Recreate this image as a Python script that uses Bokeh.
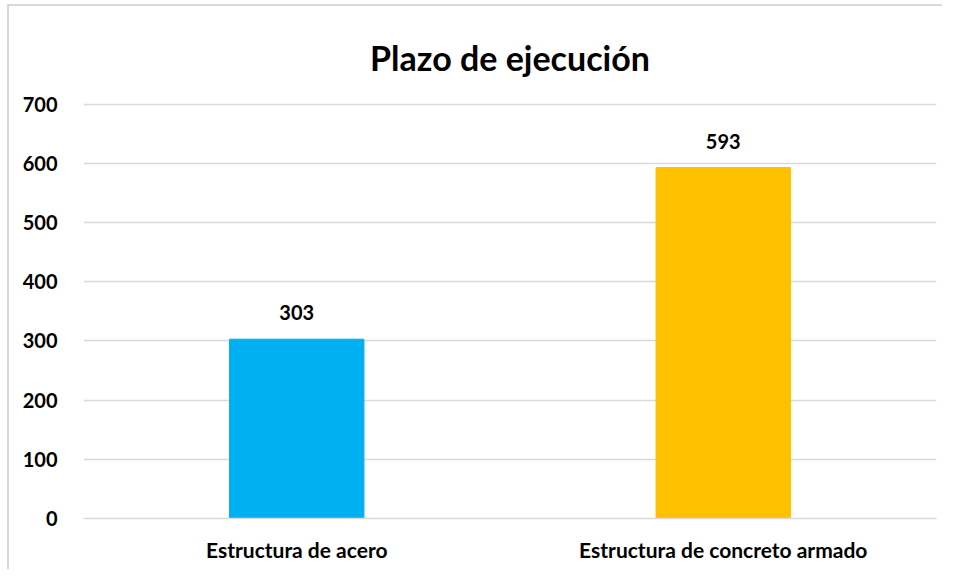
from bokeh.plotting import figure
from bokeh.models import ColumnDataSource, LabelSet, Range1d, FixedTicker
from bokeh.core.properties import value
from bokeh.embed import file_html
from bokeh.resources import INLINE

categories = ["Estructura de acero", "Estructura de concreto armado"]
values = [303, 593]
colors = ["#00B0F0", "#FFC000"]
label_text = [str(v) for v in values]
y_ticks = [0, 100, 200, 300, 400, 500, 600, 700]

FONT = "Lato"

src = ColumnDataSource(dict(cat=categories, val=values, color=colors, txt=label_text))

p = figure(x_range=categories, y_range=Range1d(0, 703), width=935, height=565,
           output_backend="svg", toolbar_location=None,
           min_border_left=74, min_border_right=8, min_border_bottom=53, min_border_top=96)

p.styles = {"border-left": "2px solid #d9d9d9", "border-top": "2px solid #d9d9d9",
            "margin-left": "7px", "margin-top": "4px"}

p.title.text = "Plazo de ejecución"
p.title.align = "center"
p.title.text_font = FONT
p.title.text_font_size = "34px"
p.title.text_font_style = "bold"
p.title.text_color = "#000000"
p.title.text_line_height = 0.7
p.title.standoff = 50

p.vbar(x="cat", top="val", width=0.315, color="color", source=src)

labels = LabelSet(x="cat", y="val", text="txt", source=src, text_align="center",
                  text_baseline="bottom", y_offset=19, text_font=value(FONT),
                  text_font_size="20px", text_font_style="bold", text_color="#000000")
p.add_layout(labels)

p.outline_line_color = None
p.background_fill_color = "white"
p.border_fill_color = "white"

p.xgrid.grid_line_color = None
p.ygrid.grid_line_color = "#d9d9d9"
p.ygrid.grid_line_width = 1.5
p.yaxis.ticker = FixedTicker(ticks=y_ticks)
p.yaxis.axis_line_color = None
p.yaxis.major_tick_line_color = None
p.yaxis.minor_tick_line_color = None
p.yaxis.major_label_text_font = FONT
p.yaxis.major_label_text_font_size = "20px"
p.yaxis.major_label_text_font_style = "bold"
p.yaxis.major_label_text_color = "#000000"
p.yaxis.major_label_standoff = 20

p.xaxis.axis_line_color = "#d9d9d9"
p.xaxis.axis_line_width = 1.5
p.xaxis.major_tick_line_color = None
p.xaxis.minor_tick_line_color = None
p.xaxis.major_label_text_font = FONT
p.xaxis.major_label_text_font_size = "21px"
p.xaxis.major_label_text_font_style = "bold"
p.xaxis.major_label_text_color = "#000000"
p.xaxis.major_label_standoff = 12

p.x_range.range_padding = 0

open("out.html", "w").write(file_html(p, INLINE))
